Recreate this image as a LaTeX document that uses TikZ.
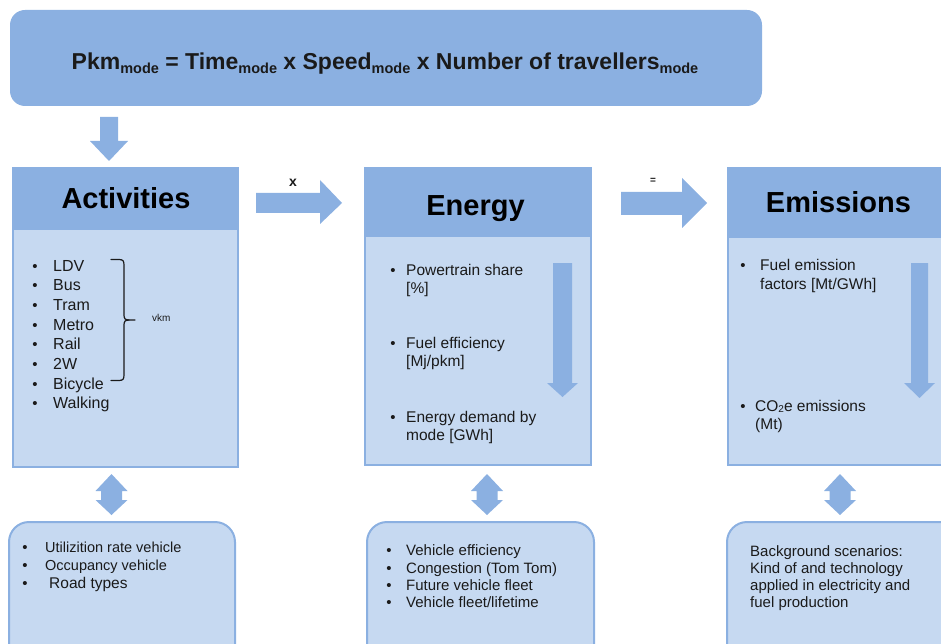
\documentclass[tikz,border=0pt]{standalone}
\usepackage{fontspec}
\setmainfont{Liberation Sans}
\definecolor{boxdark}{HTML}{8BB0E1}
\definecolor{boxlight}{HTML}{C6D9F1}
\definecolor{ink}{HTML}{1A1A1A}
\newcommand\modesub{\raisebox{-4pt}{\fontsize{14.5}{14.5}\selectfont mode}}
\newcommand\cosub{\raisebox{-1.5pt}{\fontsize{10}{10}\selectfont 2}}
\tikzset{
  darkfill/.style={fill=boxdark, draw=none},
  bodybox/.style={fill=boxlight, draw=boxdark, line width=2pt},
  softbox/.style={fill=boxlight, draw=boxdark, line width=2pt, rounded corners=20pt},
  arrowshape/.style={fill=boxdark, draw=none},
  titletxt/.style={font=\bfseries\fontsize{29}{29}\selectfont, text=black, inner sep=0pt, anchor=base},
  acttxt/.style={font=\fontsize{16}{16}\selectfont, text=ink, inner sep=0pt, anchor=base west},
  midtxt/.style={font=\fontsize{15.5}{15.5}\selectfont, text=ink, inner sep=0pt, anchor=base west},
  lowtxt/.style={font=\fontsize{14.5}{14.5}\selectfont, text=ink, inner sep=0pt, anchor=base west},
  bul/.style={font=\fontsize{15}{15}\selectfont, text=ink, inner sep=0pt, anchor=base},
}
\begin{document}
\begin{tikzpicture}[x=1pt,y=-1pt]
\useasboundingbox (0,0) rectangle (941,644);
% top formula box
\path[darkfill, rounded corners=15pt] (10,10) rectangle (762,106);
\node[font=\bfseries\fontsize{23}{23}\selectfont, text=ink, inner sep=0pt, anchor=base] (formula) at (385,70)
  {Pkm\modesub{} = Time\modesub{} x Speed\modesub{} x Number of travellers\modesub};
% down arrow
\path[arrowshape] (100,117) -- (118,117) -- (118,141) -- (128,141) -- (109,161) -- (90,141) -- (100,141) -- cycle;

% Activities
\path[bodybox] (13,229) rectangle (238,467);
\path[darkfill] (12,167) rectangle (239,229);
\node[titletxt] (acttitle) at (126,208) {Activities};
\foreach \t [count=\i] in {LDV,Bus,Tram,Metro,Rail,2W,Bicycle,Walking}{
  \node[acttxt] (act\i) at (53,{271+19.7*(\i-1)}) {\t};
  \node[bul] (actb\i) at (35,{271+19.7*(\i-1)}) {\textbullet};
}
\draw[ink, line width=1.2pt, line cap=round]
  (111,259.5) -- (119,259.5) .. controls (123,259.5) and (124,261) .. (124,265) -- (124,315)
  .. controls (124,318.5) and (125,320) .. (129,320) -- (135,320);
\draw[ink, line width=1.2pt, line cap=round]
  (129,320) .. controls (125,320) and (124,321.5) .. (124,325) -- (124,375)
  .. controls (124,379) and (123,380.5) .. (119,380.5) -- (111,380.5);
\node[font=\fontsize{10}{10}\selectfont, text=ink, inner sep=0pt, anchor=base west] (vkm) at (152,321) {vkm};

% arrow x
\path[arrowshape] (256,193) -- (320,193) -- (320,180) -- (342,203) -- (320,224) -- (320,213) -- (256,213) -- cycle;
\node[font=\bfseries\fontsize{14}{14}\selectfont, text=ink, inner sep=0pt, anchor=base] (xlab) at (293,187) {x};

% Energy
\path[bodybox] (365,236) rectangle (591,465);
\path[darkfill] (364,167) rectangle (592,236);
\node[titletxt] (entitle) at (475.5,215) {Energy};
\path[arrowshape] (553,263) -- (572,263) -- (572,383) -- (578,383) -- (562.5,397) -- (547,383) -- (553,383) -- cycle;
\node[bul] (enb1) at (393,275) {\textbullet};
\node[midtxt] (en1) at (406,275) {Powertrain share};
\node[midtxt] (en1b) at (406,293) {[\%]};
\node[bul] (enb2) at (393,348) {\textbullet};
\node[midtxt] (en2) at (406,348) {Fuel efficiency};
\node[midtxt] (en2b) at (406,366) {[Mj/pkm]};
\node[bul] (enb3) at (393,422) {\textbullet};
\node[midtxt] (en3) at (406,422) {Energy demand by};
\node[midtxt] (en3b) at (406,440) {mode [GWh]};

% arrow =
\path[arrowshape] (621,192) -- (682,192) -- (682,178) -- (707,203) -- (682,228) -- (682,215) -- (621,215) -- cycle;
\node[font=\bfseries\fontsize{10}{10}\selectfont, text=ink, inner sep=0pt] (eqlab) at (653,181) {=};

% Emissions
\path[bodybox] (728,237) rectangle (960,465);
\path[darkfill] (727,167) rectangle (960,237);
\node[titletxt] (emtitle) at (838.5,212) {Emissions};
\path[arrowshape] (911,263) -- (928,263) -- (928,383) -- (935,383) -- (919.5,398) -- (904,383) -- (911,383) -- cycle;
\node[bul] (emb1) at (743,270) {\textbullet};
\node[midtxt] (em1) at (760,270) {Fuel emission};
\node[midtxt] (em1b) at (760,289) {factors [Mt/GWh]};
\node[bul] (emb2) at (743,411) {\textbullet};
\node[midtxt] (em2) at (755,411) {CO\cosub e emissions};
\node[midtxt] (em2b) at (755,429) {(Mt)};

% double arrows
\foreach \cx/\nm in {111.5/da1, 487/da2, 840/da3}{
  \path[arrowshape] (\cx,474) -- ({\cx+16},491) -- ({\cx+10.5},491) -- ({\cx+10.5},500) -- ({\cx+16},500)
    -- (\cx,515) -- ({\cx-16},500) -- ({\cx-10.5},500) -- ({\cx-10.5},491) -- ({\cx-16},491) -- cycle;
  \coordinate (\nm) at (\cx,495);
}

% bottom boxes
\path[softbox] (9,522) rectangle (235,670);
\path[softbox] (367,522) rectangle (594,670);
\path[softbox] (727,522) rectangle (970,670);

\node[bul] (lb1) at (25,552.5) {\textbullet};
\node[lowtxt] (l1) at (45,552.5) {Utilizition rate vehicle};
\node[bul] (lb2) at (25,570) {\textbullet};
\node[lowtxt] (l2) at (45,570) {Occupancy vehicle};
\node[bul] (lb3) at (25,588) {\textbullet};
\node[lowtxt, font=\fontsize{15.5}{15.5}\selectfont] (l3) at (49,588) {Road types};

\node[bul] (mb1) at (389,555) {\textbullet};
\node[lowtxt, font=\fontsize{15}{15}\selectfont] (m1) at (406,555) {Vehicle efficiency};
\node[bul] (mb2) at (389,573) {\textbullet};
\node[lowtxt, font=\fontsize{15}{15}\selectfont] (m2) at (406,573) {Congestion (Tom Tom)};
\node[bul] (mb3) at (389,590) {\textbullet};
\node[lowtxt, font=\fontsize{15}{15}\selectfont] (m3) at (406,590) {Future vehicle fleet};
\node[bul] (mb4) at (389,607) {\textbullet};
\node[lowtxt, font=\fontsize{15}{15}\selectfont] (m4) at (406,607) {Vehicle fleet/lifetime};

\node[lowtxt, font=\fontsize{15}{15}\selectfont] (r1) at (750,556) {Background scenarios:};
\node[lowtxt, font=\fontsize{15}{15}\selectfont] (r2) at (750,573) {Kind of and technology};
\node[lowtxt, font=\fontsize{15}{15}\selectfont] (r3) at (750,590) {applied in electricity and};
\node[lowtxt, font=\fontsize{15}{15}\selectfont] (r4) at (750,607) {fuel production};
\end{tikzpicture}
\end{document}
